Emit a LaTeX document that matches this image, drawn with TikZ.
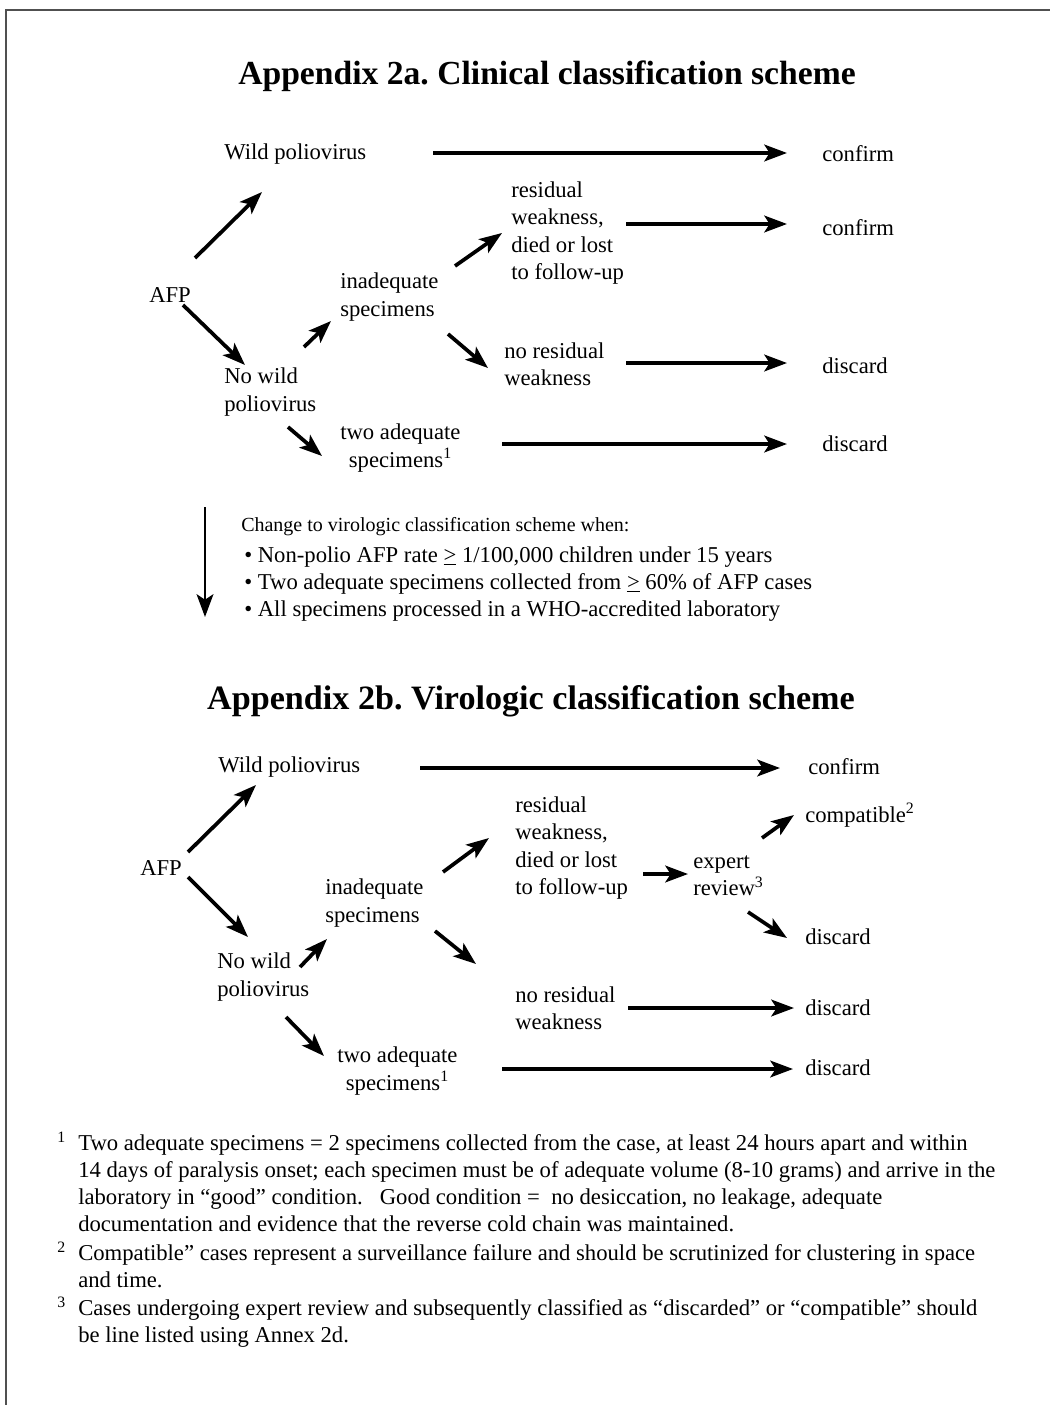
\documentclass[tikz,border=0pt]{standalone}
\usepackage{fontspec}
\setmainfont{Liberation Serif}
\usetikzlibrary{arrows.meta,calc}
\definecolor{rahmen}{RGB}{80,80,80}
\newcommand\labfont{\fontsize{17pt}{20.5pt}\selectfont}
\newcommand\titfont{\fontsize{25.6pt}{30pt}\selectfont\bfseries}
\newcommand\chgfont{\fontsize{15pt}{20.25pt}\selectfont}
\newcommand\fnfont{\fontsize{17pt}{20.25pt}\selectfont}
\newcommand\fnmark[1]{\makebox[15.75pt][l]{\textsuperscript{#1}}}
\frenchspacing

\begin{document}
\begin{tikzpicture}[x=0.75pt, y=-0.75pt,
	lbl/.style={anchor=west, inner sep=0pt, align=left, font=\labfont},
	txt/.style={anchor=west, inner sep=0pt, align=left, font=\chgfont},
	fn/.style={anchor=west, inner sep=0pt, align=left, font=\fnfont},
	pfeil/.style={line width=2.8pt, -{Stealth[length=17pt,width=12.5pt,inset=4pt]}}]

	\useasboundingbox (0,0) rectangle (1050,1405);
	\draw[rahmen, line width=1.1pt] (6,1405) -- (6,10) -- (1050,10);

	% Appendix 2a
	\node[font=\titfont, scale=0.985] (T1) at (547,76) {Appendix 2a. Clinical classification scheme};

	\node[lbl] (AFPa) at (149,295) {AFP};
	\node[lbl] (WPa) at (224,154) {Wild poliovirus};
	\node[lbl] (NWa) at (224,392) {No wild\\poliovirus};
	\node[lbl] (INa) at (340,297) {inadequate\\specimens};
	\node[lbl] (RWa) at (511,233) {residual\\weakness,\\died or lost\\to follow-up};
	\node[lbl] (NRa) at (504,364) {no residual\\weakness};
	\node[lbl, align=center] (TAa) at (340,448) {two adequate\\specimens\textsuperscript{1}};
	\node[lbl] (C1a) at (822,154) {confirm};
	\node[lbl] (C2a) at (822,228) {confirm};
	\node[lbl] (D1a) at (822,366) {discard};
	\node[lbl] (D2a) at (822,444) {discard};

	\draw[pfeil] ($(AFPa.west)+(46,-37)$) -- ($(WPa.west)+(38,38)$);
	\draw[pfeil] ($(AFPa.west)+(34,10)$) -- ($(NWa.west)+(21,-27)$);
	\draw[pfeil] ($(NWa.west)+(80,-45)$) -- ($(INa.west)+(-9,24)$);
	\draw[pfeil] ($(INa.west)+(115,-31)$) -- ($(RWa.west)+(-9,0)$);
	\draw[pfeil] ($(INa.west)+(108,37)$) -- ($(NRa.west)+(-16,4)$);
	\draw[pfeil] ($(NWa.west)+(64,35)$) -- ($(TAa.west)+(-18,8)$);
	\draw[pfeil] ($(WPa.west)+(209,-1)$) -- ($(C1a.west)+(-35,-1)$);
	\draw[pfeil] ($(RWa.west)+(115,-9)$) -- ($(C2a.west)+(-35,-4)$);
	\draw[pfeil] ($(NRa.west)+(122,-1)$) -- ($(D1a.west)+(-35,-3)$);
	\draw[pfeil] ($(TAa.west)+(162,-4)$) -- ($(D2a.west)+(-35,0)$);

	% Wechsel
	\coordinate (V1) at (205,507);
	\coordinate (V2) at (205,617);
	\draw[pfeil, line width=2.2pt] (V1) -- (V2);
	\node[txt] (CH) at (241,527) {Change to virologic classification scheme when:};
	\node[lbl] (B1) at (244,557) {\textbullet\ Non-polio AFP rate \underline{>} 1/100,000 children under 15 years};
	\node[lbl] (B2) at (244,584) {\textbullet\ Two adequate specimens collected from \underline{>} 60\% of AFP cases};
	\node[lbl] (B3) at (244,611) {\textbullet\ All specimens processed in a WHO-accredited laboratory};

	% Appendix 2b
	\node[font=\titfont] (T2) at (531,701) {Appendix 2b. Virologic classification scheme};

	\node[lbl] (AFPb) at (140,868) {AFP};
	\node[lbl] (WPb) at (218,767) {Wild poliovirus};
	\node[lbl] (NWb) at (217,977) {No wild\\poliovirus};
	\node[lbl] (INb) at (325,903) {inadequate\\specimens};
	\node[lbl] (RWb) at (515,848) {residual\\weakness,\\died or lost\\to follow-up};
	\node[lbl] (NRb) at (515,1008) {no residual\\weakness};
	\node[lbl, align=center] (TAb) at (337,1071) {two adequate\\specimens\textsuperscript{1}};
	\node[lbl] (EXb) at (693,876) {expert\\review\textsuperscript{3}};
	\node[lbl] (C1b) at (808,767) {confirm};
	\node[lbl] (CPb) at (805,815) {compatible\textsuperscript{2}};
	\node[lbl] (D1b) at (805,937) {discard};
	\node[lbl] (D2b) at (805,1008) {discard};
	\node[lbl] (D3b) at (805,1068) {discard};

	\draw[pfeil] ($(AFPb.west)+(48,-16)$) -- ($(WPb.west)+(38,18)$);
	\draw[pfeil] ($(AFPb.west)+(48,9)$) -- ($(NWb.west)+(31,-40)$);
	\draw[pfeil] ($(NWb.west)+(83,-10)$) -- ($(INb.west)+(2,36)$);
	\draw[pfeil] ($(INb.west)+(118,-31)$) -- ($(RWb.west)+(-26,-10)$);
	\draw[pfeil] ($(INb.west)+(110,28)$) -- ($(NRb.west)+(-39,-44)$);
	\draw[pfeil] ($(NWb.west)+(69,40)$) -- ($(TAb.west)+(-13,-15)$);
	\draw[pfeil] ($(WPb.west)+(202,1)$) -- ($(C1b.west)+(-28,1)$);
	\draw[pfeil] ($(RWb.west)+(128,26)$) -- ($(EXb.west)+(-5,-2)$);
	\draw[pfeil] ($(EXb.west)+(69,-38)$) -- ($(CPb.west)+(-11,0)$);
	\draw[pfeil] ($(EXb.west)+(55,36)$) -- ($(D1b.west)+(-18,1)$);
	\draw[pfeil] ($(NRb.west)+(113,0)$) -- ($(D2b.west)+(-11,0)$);
	\draw[pfeil] ($(TAb.west)+(165,-2)$) -- ($(D3b.west)+(-12,1)$);

	% %%%% Fussnoten
	\node[fn] (F1) at (57,1182) {\fnmark{1}Two adequate specimens = 2 specimens collected from the case, at least 24 hours apart and within\\
		\hspace*{15.75pt}14 days of paralysis onset; each specimen must be of adequate volume (8-10 grams) and arrive in the\\
		\hspace*{15.75pt}laboratory in “good” condition.\ \ \ Good condition =\ \ no desiccation, no leakage, adequate\\
		\hspace*{15.75pt}documentation and evidence that the reverse cold chain was maintained.};
	\node[fn] (F2) at (57,1265) {\fnmark{2}Compatible” cases represent a surveillance failure and should be scrutinized for clustering in space\\
		\hspace*{15.75pt}and time.};
	\node[fn] (F3) at (57,1322) {\fnmark{3}Cases undergoing expert review and subsequently classified as “discarded” or “compatible” should\\
		\hspace*{15.75pt}be line listed using Annex 2d.};

\end{tikzpicture}
\end{document}
